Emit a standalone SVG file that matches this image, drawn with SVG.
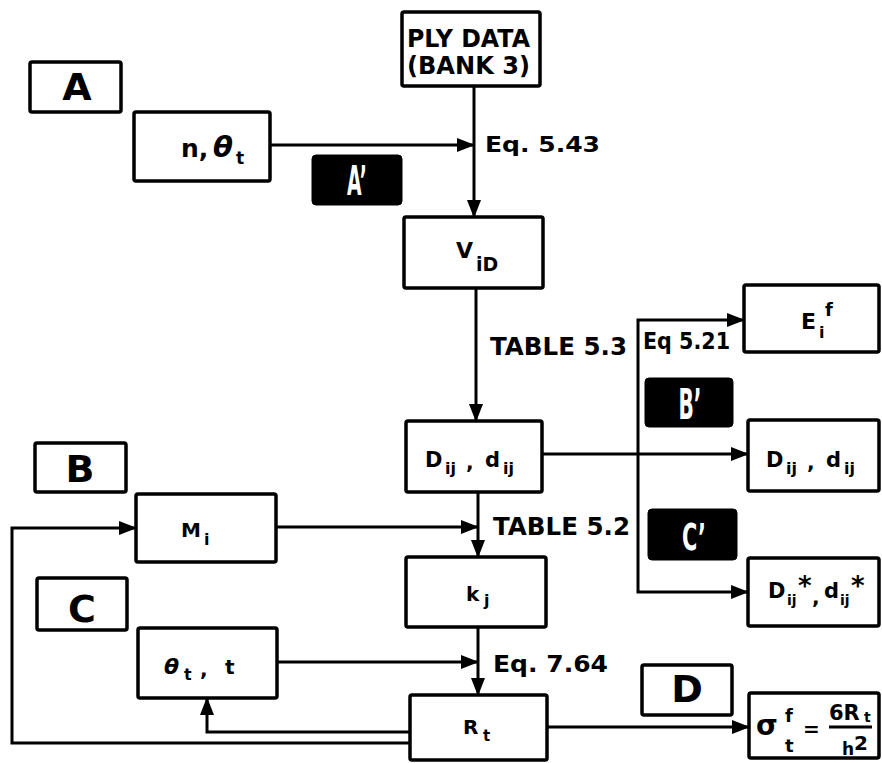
<svg xmlns="http://www.w3.org/2000/svg" width="882" height="763" viewBox="0 0 882 763">
<defs>
<style>
.box{fill:#fff;stroke:#000;stroke-width:3.5}
.blk{fill:#000;stroke:#000;stroke-width:1}
.t{font-family:"DejaVu Sans","Liberation Sans",sans-serif;font-weight:bold;fill:#000}
.w{fill:#fff}
.i{font-style:italic}
.ln{fill:none;stroke:#000;stroke-width:3}
.arr{marker-end:url(#ah)}
</style>
<marker id="ah" markerUnits="userSpaceOnUse" markerWidth="18" markerHeight="14" refX="17" refY="7" orient="auto"><path d="M0,0 L18,7 L0,14 z" fill="#000"/></marker>
</defs>
<rect width="882" height="763" fill="#fff"/>

<g id="connectors">
<path class="ln arr" d="M474,86 V217"/>
<path class="ln arr" d="M270,145 H474"/>
<path class="ln arr" d="M476,288 V421"/>
<path class="ln arr" d="M542,454 H748"/>
<path class="ln arr" d="M638,454 V320 H744"/>
<path class="ln arr" d="M638,454 V592 H748"/>
<path class="ln arr" d="M478,492 V557"/>
<path class="ln arr" d="M276,527 H478"/>
<path class="ln arr" d="M478,627 V695"/>
<path class="ln arr" d="M277,662 H478"/>
<path class="ln arr" d="M547,727 H749"/>
<path class="ln arr" d="M410,732 H207 V698"/>
<path class="ln arr" d="M410,743 H12 V528 H136"/>
<text class="t" x="485" y="152" font-size="22" textLength="115" lengthAdjust="spacingAndGlyphs">Eq. 5.43</text>
<text class="t" x="490" y="355" font-size="24" textLength="137" lengthAdjust="spacingAndGlyphs">TABLE 5.3</text>
<text class="t" x="643" y="349" font-size="23" textLength="87" lengthAdjust="spacingAndGlyphs">Eq 5.21</text>
<text class="t" x="493" y="535" font-size="24" textLength="137" lengthAdjust="spacingAndGlyphs">TABLE 5.2</text>
<text class="t" x="493" y="672" font-size="23" textLength="115" lengthAdjust="spacingAndGlyphs">Eq. 7.64</text>
</g>

<g id="labelA">
<rect class="box" x="30" y="62" width="91" height="50" rx="2"/>
<text class="t" x="77" y="100" font-size="38" text-anchor="middle">A</text>
</g>
<g id="labelAprime">
<rect class="blk" x="312" y="155" width="90" height="50" rx="4"/>
<text class="t w" x="357" y="195" font-size="40" text-anchor="middle" textLength="20" lengthAdjust="spacingAndGlyphs">A’</text>
</g>
<g id="n_theta">
<rect class="box" x="134" y="112" width="136" height="69" rx="2"/>
<text class="t" x="181" y="157" font-size="25">n,</text>
<text class="t i" x="213" y="157" font-size="29">θ</text>
<text class="t" x="236" y="164" font-size="17">t</text>
</g>
<g id="plydata">
<rect class="box" x="402" y="12" width="138" height="74" rx="2"/>
<text class="t" x="407" y="47" font-size="25" textLength="123" lengthAdjust="spacingAndGlyphs">PLY DATA</text>
<text class="t" x="407" y="74" font-size="25" textLength="123" lengthAdjust="spacingAndGlyphs">(BANK 3)</text>
</g>
<g id="ViD">
<rect class="box" x="404" y="217" width="139" height="71" rx="2"/>
<text class="t" x="456" y="258" font-size="22">V</text>
<text class="t" x="476" y="271" font-size="19">iD</text>
</g>
<g id="Eif">
<rect class="box" x="744" y="285" width="135" height="67" rx="2"/>
<text class="t" x="801" y="329" font-size="22">E</text>
<text class="t" x="819" y="338" font-size="16">i</text>
<text class="t" x="825" y="316" font-size="18">f</text>
</g>
<g id="labelBprime">
<rect class="blk" x="645" y="378" width="88" height="49" rx="4"/>
<text class="t w" x="690" y="419" font-size="42" text-anchor="middle" textLength="23" lengthAdjust="spacingAndGlyphs">B’</text>
</g>
<g id="Dij_center">
<rect class="box" x="406" y="421" width="136" height="71" rx="2"/>
<text class="t" x="425" y="467" font-size="21">D</text>
<text class="t" x="445" y="474" font-size="16">ij</text>
<text class="t" x="466" y="469" font-size="20">,</text>
<text class="t" x="485" y="467" font-size="21">d</text>
<text class="t" x="503" y="474" font-size="16">ij</text>
</g>
<g id="Dij_right">
<rect class="box" x="748" y="420" width="131" height="71" rx="2"/>
<text class="t" x="766" y="467" font-size="21">D</text>
<text class="t" x="786" y="474" font-size="16">ij</text>
<text class="t" x="807" y="469" font-size="20">,</text>
<text class="t" x="826" y="467" font-size="21">d</text>
<text class="t" x="844" y="474" font-size="16">ij</text>
</g>
<g id="labelB">
<rect class="box" x="35" y="443" width="91" height="49" rx="2"/>
<text class="t" x="80" y="482" font-size="38" text-anchor="middle">B</text>
</g>
<g id="Mi">
<rect class="box" x="136" y="494" width="140" height="68" rx="2"/>
<text class="t" x="181" y="537" font-size="20">M</text>
<text class="t" x="204" y="545" font-size="16">i</text>
</g>
<g id="labelCprime">
<rect class="blk" x="648" y="509" width="89" height="51" rx="4"/>
<text class="t w" x="694" y="550" font-size="38" text-anchor="middle" textLength="24" lengthAdjust="spacingAndGlyphs">C’</text>
</g>
<g id="kj">
<rect class="box" x="406" y="557" width="140" height="70" rx="2"/>
<text class="t" x="466" y="601" font-size="20">k</text>
<text class="t" x="484" y="606" font-size="16">j</text>
</g>
<g id="Dij_star">
<rect class="box" x="748" y="558" width="131" height="68" rx="2"/>
<text class="t" x="768" y="598" font-size="21">D</text>
<text class="t" x="787" y="605" font-size="14">ij</text>
<text class="t" x="798" y="595" font-size="26">*</text>
<text class="t" x="812" y="604" font-size="20">,</text>
<text class="t" x="824" y="598" font-size="21">d</text>
<text class="t" x="840" y="605" font-size="14">ij</text>
<text class="t" x="851" y="595" font-size="26">*</text>
</g>
<g id="labelC">
<rect class="box" x="37" y="578" width="90" height="52" rx="2"/>
<text class="t" x="82" y="622" font-size="38" text-anchor="middle">C</text>
</g>
<g id="theta_t">
<rect class="box" x="138" y="628" width="139" height="70" rx="2"/>
<text class="t i" x="164" y="674" font-size="22">θ</text>
<text class="t" x="184" y="680" font-size="16">t</text>
<text class="t" x="200" y="676" font-size="20">,</text>
<text class="t" x="225" y="674" font-size="20">t</text>
</g>
<g id="labelD">
<rect class="box" x="642" y="665" width="90" height="50" rx="2"/>
<text class="t" x="687" y="702" font-size="38" text-anchor="middle">D</text>
</g>
<g id="Rt">
<rect class="box" x="410" y="695" width="137" height="65" rx="2"/>
<text class="t" x="463" y="734" font-size="20">R</text>
<text class="t" x="483" y="741" font-size="15">t</text>
</g>
<g id="sigma">
<rect class="box" x="749" y="693" width="130" height="65" rx="2"/>
<text class="t" x="756" y="735" font-size="28">σ</text>
<text class="t" x="785" y="722" font-size="18">f</text>
<text class="t" x="785" y="752" font-size="18">t</text>
<text class="t" x="803" y="736" font-size="20">=</text>
<text class="t" x="829" y="720" font-size="21">6R</text>
<text class="t" x="864" y="722" font-size="14">t</text>
<line x1="829" y1="727" x2="872" y2="727" stroke="#000" stroke-width="3"/>
<text class="t" x="842" y="755" font-size="17">h</text>
<text class="t" x="854" y="750" font-size="20">2</text>
</g>
</svg>
